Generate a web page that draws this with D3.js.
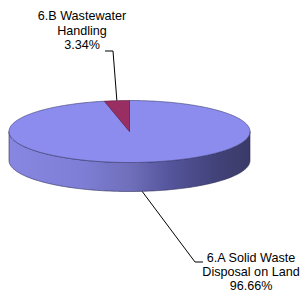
<!DOCTYPE html>
<html>
<head>
<meta charset="utf-8">
<script src="https://cdn.jsdelivr.net/npm/d3@7"></script>
<style>
  body { margin: 0; background: #fff; }
  text { font-family: "Liberation Sans", Arial, sans-serif; font-size: 12.6px; fill: #000; }
</style>
</head>
<body>
<script>
var width = 307,
    height = 299;

// data
var categories = ["6.A Solid Waste Disposal on Land", "6.B Wastewater Handling"];
var values = [96.66, 3.34];
var labelLines = [["6.A Solid Waste", "Disposal on Land", "96.66%"],
                  ["6.B Wastewater", "Handling", "3.34%"]];
var colors = ["#8c8cee", "#992e62"];

// pie geometry (flattened 3d pie)
var cx = 129.5, cy = 131.5, rx = 120.5, ry = 31, depth = 29;

var svg = d3.select("body").append("svg")
    .attr("width", width)
    .attr("height", height);

var defs = svg.append("defs");
var grad = defs.append("linearGradient")
    .attr("id", "side")
    .attr("gradientUnits", "userSpaceOnUse")
    .attr("x1", cx - rx).attr("x2", cx + rx)
    .attr("y1", 0).attr("y2", 0);
[[0, "#8787e2"], [0.3, "#7e7ed6"], [0.5, "#6f6fbb"], [0.68, "#53539a"], [0.85, "#43437b"], [1, "#3a3a68"]]
  .forEach(function(s){ grad.append("stop").attr("offset", s[0]).attr("stop-color", s[1]); });

var pie = d3.pie().sort(null).startAngle(0).endAngle(2 * Math.PI);
var arcs = pie(values);

function pt(a, z)
{
  return [cx + rx * Math.sin(a), cy - ry * Math.cos(a) + (z || 0)];
}

function arcPoints(a0, a1, z)
{
  var n = Math.max(2, Math.ceil(Math.abs(a1 - a0) / 0.02));
  var pts = [];
  for(var i = 0; i <= n; i++)
    pts.push(pt(a0 + (a1 - a0) * i / n, z));
  return pts;
}

var line = d3.line();

// side walls (front half only: 90deg .. 270deg)
arcs.forEach(function(d, i)
{
  var a0 = Math.max(d.startAngle, Math.PI / 2),
      a1 = Math.min(d.endAngle, 3 * Math.PI / 2);
  if(a1 <= a0) return;
  var top = arcPoints(a0, a1, 0);
  var bottom = arcPoints(a1, a0, depth);
  svg.append("path")
    .attr("d", line(top.concat(bottom)) + "Z")
    .attr("fill", i == 0 ? "url(#side)" : colors[i])
    .attr("stroke", "#2e2e5a")
    .attr("stroke-width", 0.6);
});

// top faces
arcs.forEach(function(d, i)
{
  var pts = [[cx, cy]].concat(arcPoints(d.startAngle, d.endAngle, 0));
  svg.append("path")
    .attr("d", line(pts) + "Z")
    .attr("fill", colors[i])
    .attr("stroke", i == 0 ? "#3a3a70" : "#5a1a3a")
    .attr("stroke-width", 0.6);
});

// labels with leader lines
var labelPos = [{x: 251, y: 262, lh: 13.8, bend: [195, 262], end: [203, 262]},
                {x: 82, y: 20, lh: 14.6, bend: [113, 51], end: [105, 51]}];

arcs.forEach(function(d, i)
{
  var mid = (d.startAngle + d.endAngle) / 2;
  var onEdge = Math.cos(mid) < 0 ? pt(mid, depth) : pt(mid, 0);
  var lp = labelPos[i];

  svg.append("path")
    .attr("d", line([onEdge, lp.bend, lp.end]))
    .attr("fill", "none")
    .attr("stroke", "#000")
    .attr("stroke-width", 1);

  svg.append("text")
    .attr("text-anchor", "middle")
    .selectAll("tspan")
    .data(labelLines[i])
    .enter().append("tspan")
      .attr("x", lp.x)
      .attr("y", function(t, j){ return lp.y + j * lp.lh; })
      .text(function(t){ return t; });
});
</script>
</body>
</html>
